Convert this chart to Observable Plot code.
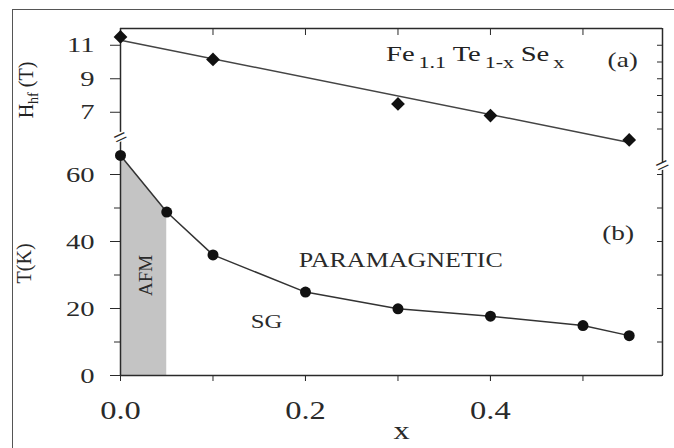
<!DOCTYPE html>
<html><head><meta charset="utf-8">
<script src="https://cdn.jsdelivr.net/npm/d3@7"></script>
<script src="https://cdn.jsdelivr.net/npm/@observablehq/plot@0.6"></script>
<style>
body{margin:0;background:#fff;}
#wrap{position:relative;width:674px;height:448px;overflow:hidden;background:#fff;font-family:"Liberation Serif",serif;color:#222}
#frame{position:absolute;left:12px;top:9px;width:700px;height:500px;border-left:1.5px solid #555;border-top:1.5px solid #555}
#wrap svg{position:absolute;left:0;top:0}
.lab{position:absolute;white-space:nowrap;line-height:1}
.sub{font-size:17px;position:relative;top:7px;margin-left:3px;margin-right:5px}
</style></head><body>
<div id="wrap"><div id="frame"></div></div>
<script>
// ---- data ----
const xH = [0, 0.1, 0.3, 0.4, 0.55];
const hHf = [11.5, 10.15, 7.5, 6.8, 5.35];
const xFit = [0, 0.55];
const hFit = [11.3, 5.2];
const xT = [0, 0.05, 0.1, 0.2, 0.3, 0.4, 0.5, 0.55];
const tK = [65.7, 48.8, 36.0, 24.9, 19.9, 17.7, 14.9, 11.9];
const xAFM = [0, 0.05];
const tAFM = [65.7, 48.8];
const xTicks = [0, 0.1, 0.2, 0.3, 0.4, 0.5];
const xTickLabels = [0, 0.2, 0.4];
const hTickLabels = [7, 9, 11];
const hTicksAll = [6, 7, 8, 9, 10, 11];
const tTickLabels = [0, 20, 40, 60];
const tTicksMinor = [10, 30, 50];
const tTicksAll = [0, 10, 20, 30, 40, 50, 60];
const regionText = ["PARAMAGNETIC", "SG", "(b)"];
const regionX = [0.303, 0.158, 0.538];
const regionY = [34.3, 16.1, 42.4];
const regionSize = [20, 19, 21];

const xMax = 0.586;
const ink = "#2a2a2a";
const S = 1.3; // horizontal stretch of the source figure's lettering

const hPts = xH.map((x, i) => ({x, y: hHf[i]}));
const fitPts = xFit.map((x, i) => ({x, y: hFit[i]}));
const tPts = xT.map((x, i) => ({x, y: tK[i]}));
const afmPts = xAFM.map((x, i) => ({x, y: tAFM[i]}));
const regions = regionText.map((t, i) => ({t, x: regionX[i], y: regionY[i], s: regionSize[i]}));

const common = {
  width: 674, marginLeft: 120, marginRight: 12,
  x: {domain: [0, xMax], axis: null},
  style: {background: "transparent", fontFamily: "Liberation Serif", color: ink, overflow: "visible"}
};
const ax = {label: null, stroke: ink, fill: ink};

// ---- bottom panel: T(K) ----
const bottomPlot = Plot.plot({
  ...common,
  height: 448, marginTop: 107, marginBottom: 73,
  y: {domain: [0, 80], axis: null},
  marks: [
    Plot.areaY(afmPts, {x: "x", y: "y", y1: 0, fill: "#c4c4c4"}),
    Plot.ruleY([0], {stroke: ink, strokeWidth: 1.5}),
    Plot.ruleX([0], {y1: 0, y2: 69.8, stroke: ink, strokeWidth: 1.5}),
    Plot.ruleX([xMax], {y1: 0, y2: 61.3, stroke: ink, strokeWidth: 1.5}),
    Plot.axisX({...ax, ticks: xTicks, anchor: "bottom", tickSize: 6, tickFormat: () => ""}),
    Plot.axisX({...ax, ticks: xTickLabels, anchor: "bottom", tickSize: 6, tickPadding: 20, fontSize: 25, tickFormat: d3.format(".1f")}),
    Plot.axisY({...ax, ticks: tTickLabels, anchor: "left", tickSize: 10, tickPadding: 16, fontSize: 22}),
    Plot.axisY({...ax, ticks: tTicksMinor, anchor: "left", tickSize: 6, tickFormat: () => ""}),
    Plot.axisY({...ax, ticks: tTicksAll, anchor: "right", tickSize: -6, tickFormat: () => ""}),
    Plot.text(["="], {x: 0, y: 71.1, rotate: -25, fontSize: 24, fill: ink, stroke: "white", strokeWidth: 2}),
    Plot.text(["="], {x: xMax, y: 62.7, rotate: -25, fontSize: 24, fill: ink, stroke: "white", strokeWidth: 2}),
    Plot.line(tPts, {x: "x", y: "y", stroke: "#333", strokeWidth: 1.5}),
    Plot.dot(tPts, {x: "x", y: "y", r: 5.5, fill: "#111"}),
    Plot.text(regions, {x: "x", y: "y", text: "t", fontSize: d => d.s, fill: ink}),
    Plot.text(["AFM"], {x: 0.028, y: 29.9, rotate: -90, fontSize: 19, fill: ink}),
    Plot.text(["T(K)"], {frameAnchor: "left", y: 27.5, dx: -96, rotate: -90, fontSize: 20, fill: ink}),
    Plot.text(["x"], {x: 0.304, frameAnchor: "bottom", dy: 63, fontSize: 25, fill: ink})
  ]
});

// ---- top panel: H_hf (T) ----
const topPlot = Plot.plot({
  ...common,
  height: 162, marginTop: 28, marginBottom: 0,
  y: {domain: [4, 12], axis: null},
  marks: [
    Plot.ruleY([12], {stroke: ink, strokeWidth: 1.5}),
    Plot.ruleX([0], {y1: 12, y2: 5.8, stroke: ink, strokeWidth: 1.5}),
    Plot.ruleX([xMax], {y1: 12, y2: 4, stroke: ink, strokeWidth: 1.5}),
    Plot.axisX({...ax, ticks: xTicks, anchor: "top", tickSize: -6, tickFormat: () => ""}),
    Plot.axisY({...ax, ticks: hTickLabels, anchor: "left", tickSize: 10, tickPadding: 16, fontSize: 22}),
    Plot.axisY({...ax, ticks: hTicksAll, anchor: "right", tickSize: -6, tickFormat: () => ""}),
    Plot.line(fitPts, {x: "x", y: "y", stroke: "#444", strokeWidth: 1.5}),
    Plot.dot(hPts, {x: "x", y: "y", symbol: "diamond2", r: 6.2, fill: "#111"}),
    Plot.text(["(a)"], {x: 0.543, y: 10.1, fontSize: 21, fill: ink})
  ]
});

// widen each horizontal text about its own anchor, like the source figure's lettering
function stretch(svg) {
  svg.querySelectorAll("text").forEach(t => {
    for (let el = t; el && el !== svg; el = el.parentNode) {
      if ((el.getAttribute("transform") || "").includes("rotate")) return;
    }
    const tr = t.getAttribute("transform") || "";
    const b = t.getBBox();
    const a = getComputedStyle(t).textAnchor;
    const axp = a === "middle" ? b.x + b.width / 2 : a === "end" ? b.x + b.width : b.x;
    t.setAttribute("transform", `${tr} translate(${axp},0) scale(${S},1) translate(${-axp},0)`);
  });
}
const wrap = document.getElementById("wrap");
wrap.appendChild(bottomPlot);
wrap.appendChild(topPlot);
stretch(bottomPlot); stretch(topPlot);

// formula title and the y label of panel (a), which need sub-scripts
const title = document.createElement("div");
title.className = "lab";
title.style.cssText = `left:386px;top:43px;font-size:22px;transform:scaleX(${S});transform-origin:left top;`;
title.innerHTML = 'Fe<span class="sub">1.1</span>Te<span class="sub">1-x</span>Se<span class="sub" style="margin-right:0">x</span>';
wrap.appendChild(title);

const ylab = document.createElement("div");
ylab.className = "lab";
ylab.style.cssText = "left:26px;top:90px;font-size:20px;transform:translate(-50%,-50%) rotate(-90deg);";
ylab.innerHTML = 'H<span style="font-size:14px;position:relative;top:5px">hf</span> (T)';
wrap.appendChild(ylab);
</script>
</body></html>
